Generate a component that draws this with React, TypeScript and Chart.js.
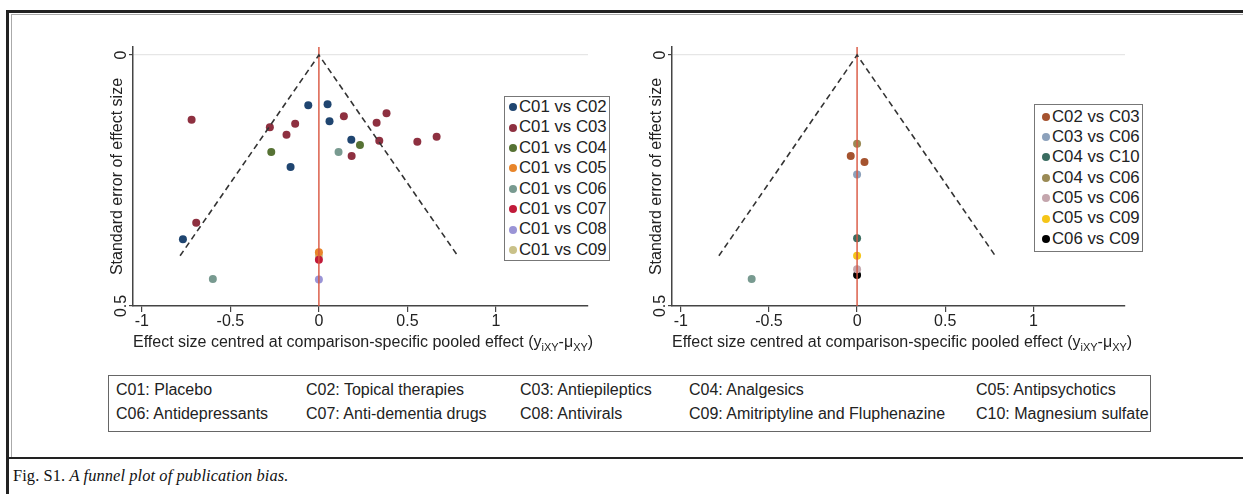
import React, { useEffect, useRef } from 'react';
import { Chart, registerables } from 'chart.js';

Chart.register(...registerables);

const FONT = '"Liberation Sans", Arial, Helvetica, sans-serif';
const SERIF = '"Liberation Serif", "Times New Roman", serif';

// ---- axes ----
const xTicks = [-1, -0.5, 0, 0.5, 1];
const yTicks = [0, 0.5];
const xMin = -1.05;
const xMax = 1.52;
const yMin = -0.016;
const yMax = 0.5;
const yAxisTitle = 'Standard error of effect size';
const xTitleParts = [
  { text: 'Effect size centred at comparison-specific pooled effect (y', sub: false },
  { text: 'iXY', sub: true },
  { text: '-\u03bc', sub: false },
  { text: 'XY', sub: true },
  { text: ')', sub: false },
];

// ---- funnel limits and reference line ----
const funnelX = [-0.784, 0, 0.784];
const funnelY = [0.4, 0, 0.4];
const refLineX = [0, 0];
const refLineY = [yMin, yMax];

// ---- left panel ----
const leftNames = ['C01 vs C02', 'C01 vs C03', 'C01 vs C04', 'C01 vs C05', 'C01 vs C06', 'C01 vs C07', 'C01 vs C08', 'C01 vs C09'];
const leftColors = ['#1f4570', '#8e3040', '#567234', '#e8852a', '#789a90', '#c11a3a', '#9a94d6', '#c9c189'];
const c01c02X = [-0.06, 0.049, 0.06, 0.183, -0.16, -0.768];
const c01c02Y = [0.1, 0.098, 0.132, 0.169, 0.223, 0.367];
const c01c03X = [-0.719, -0.277, -0.134, -0.183, 0.141, 0.326, 0.382, 0.341, 0.185, 0.556, 0.665, -0.693];
const c01c03Y = [0.129, 0.144, 0.137, 0.159, 0.122, 0.135, 0.116, 0.171, 0.201, 0.173, 0.163, 0.334];
const c01c04X = [-0.269, 0.232];
const c01c04Y = [0.193, 0.179];
const c01c05X = [0];
const c01c05Y = [0.393];
const c01c06X = [0.111, -0.599];
const c01c06Y = [0.193, 0.446];
const c01c07X = [0];
const c01c07Y = [0.408];
const c01c08X = [0];
const c01c08Y = [0.447];
const c01c09X = [0];
const c01c09Y = [0.4];
const leftXs = [c01c02X, c01c03X, c01c04X, c01c05X, c01c06X, c01c07X, c01c08X, c01c09X];
const leftYs = [c01c02Y, c01c03Y, c01c04Y, c01c05Y, c01c06Y, c01c07Y, c01c08Y, c01c09Y];

// ---- right panel ----
const rightNames = ['C02 vs C03', 'C03 vs C06', 'C04 vs C10', 'C04 vs C06', 'C05 vs C06', 'C05 vs C09', 'C06 vs C09'];
const rightColors = ['#a5532f', '#8ca1bb', '#3a6c60', '#9a8a55', '#c4a6ad', '#f5c518', '#000000'];
const c02c03X = [-0.036, 0.042];
const c02c03Y = [0.201, 0.213];
const c03c06X = [0];
const c03c06Y = [0.238];
const c04c10X = [0];
const c04c10Y = [0.365];
const c04c06X = [0];
const c04c06Y = [0.177];
const c05c06X = [0];
const c05c06Y = [0.427];
const c05c09X = [0];
const c05c09Y = [0.4];
const c06c09X = [0];
const c06c09Y = [0.438];
const rightXs = [c02c03X, c03c06X, c04c10X, c04c06X, c05c06X, c05c09X, c06c09X];
const rightYs = [c02c03Y, c03c06Y, c04c10Y, c04c06Y, c05c06Y, c05c09Y, c06c09Y];
// point present in the right panel without a legend entry
const rightExtraX = [-0.598];
const rightExtraY = [0.446];
const rightExtraColor = '#789a90';

// ---- footnote / caption ----
const abbreviations = [
  ['C01: Placebo', 'C02: Topical therapies', 'C03: Antiepileptics', 'C04: Analgesics', 'C05: Antipsychotics'],
  ['C06: Antidepressants', 'C07: Anti-dementia drugs', 'C08: Antivirals', 'C09: Amitriptyline and Fluphenazine', 'C10: Magnesium sulfate'],
];
const abbrevColumns = [7, 197, 411, 580, 867];
const captionLead = 'Fig. S1. ';
const captionItalic = 'A funnel plot of publication bias.';

const toPoints = (xs: number[], ys: number[]) => xs.map((x, i) => ({ x, y: ys[i] }));

const axisTextPlugin = {
  id: 'axisText',
  afterDraw(chart: any) {
    const { ctx, chartArea, scales } = chart;
    const ys = scales.y;
    ctx.save();
    ctx.fillStyle = '#222';
    ctx.font = `16px ${FONT}`;
    ctx.textAlign = 'center';
    ctx.textBaseline = 'middle';
    ys.ticks.forEach((t: any) => {
      const py = ys.getPixelForValue(t.value);
      ctx.save();
      ctx.translate(chartArea.left - 11, py);
      ctx.rotate(-Math.PI / 2);
      ctx.fillText(String(t.value), 0, 0);
      ctx.restore();
    });
    let x = chartArea.left;
    const base = chartArea.bottom + 41;
    ctx.textAlign = 'left';
    ctx.textBaseline = 'alphabetic';
    xTitleParts.forEach((p) => {
      ctx.font = p.sub ? `11px ${FONT}` : `16px ${FONT}`;
      ctx.fillText(p.text, x, base + (p.sub ? 4 : 0));
      x += ctx.measureText(p.text).width;
    });
    ctx.restore();
  },
};

type PanelProps = {
  xs: number[][];
  ys: number[][];
  colors: string[];
  names: string[];
  extra?: { x: number[]; y: number[]; color: string };
  left: number;
  width: number;
  axisWidth: number;
  padRight: number;
};

const CANVAS_H = 370;
const PLOT_TOP = 47;
const PLOT_BOTTOM = 306;

function FunnelPanel(props: PanelProps) {
  const ref = useRef<HTMLCanvasElement>(null);
  useEffect(() => {
    const { xs, ys, colors, names, extra, axisWidth, padRight } = props;
    const lineSets: any[] = [
      {
        type: 'line',
        label: 'funnel',
        data: toPoints(funnelX, funnelY),
        borderColor: '#333',
        borderWidth: 1.6,
        borderDash: [6, 4],
        pointRadius: 0,
        fill: false,
        order: 0,
      },
      {
        type: 'line',
        label: 'zero',
        data: toPoints(refLineX, refLineY),
        borderColor: '#d9553f',
        borderWidth: 1.4,
        pointRadius: 0,
        fill: false,
        order: 0,
      },
    ];
    const pointSets: any[] = names.map((n, i) => ({
      label: n,
      data: toPoints(xs[i], ys[i]),
      backgroundColor: colors[i],
      borderWidth: 0,
      pointRadius: 4,
      order: 1,
    }));
    if (extra) {
      pointSets.push({
        label: '',
        data: toPoints(extra.x, extra.y),
        backgroundColor: extra.color,
        borderWidth: 0,
        pointRadius: 4,
        order: 1,
      });
    }
    const chart = new Chart(ref.current as HTMLCanvasElement, {
      type: 'scatter',
      data: { datasets: [...lineSets, ...pointSets] },
      options: {
        animation: false,
        responsive: false,
        devicePixelRatio: 1,
        layout: { padding: { top: PLOT_TOP, right: padRight, left: 0, bottom: 0 } },
        plugins: { legend: { display: false }, tooltip: { enabled: false } },
        scales: {
          x: {
            type: 'linear',
            min: xMin,
            max: xMax,
            afterBuildTicks: (s: any) => {
              s.ticks = xTicks.map((v) => ({ value: v }));
            },
            afterFit: (s: any) => {
              s.height = CANVAS_H - PLOT_BOTTOM;
            },
            grid: { drawOnChartArea: false, drawTicks: true, tickLength: 6, color: '#444', lineWidth: 1.2 },
            border: { display: true, color: '#444', width: 1.5 },
            ticks: {
              font: { family: FONT, size: 16 },
              color: '#222',
              padding: 0,
              maxRotation: 0,
              callback: (v: any) => String(v),
            },
          },
          y: {
            type: 'linear',
            reverse: true,
            min: yMin,
            max: yMax,
            afterBuildTicks: (s: any) => {
              s.ticks = yTicks.map((v) => ({ value: v }));
            },
            afterFit: (s: any) => {
              s.width = axisWidth;
            },
            grid: {
              drawOnChartArea: true,
              drawTicks: true,
              tickLength: 4,
              tickColor: '#444',
              color: (c: any) => (c.tick && c.tick.value === 0 ? '#e6e6e6' : 'rgba(0,0,0,0)'),
              lineWidth: 1.2,
            },
            border: { display: true, color: '#444', width: 1.5 },
            ticks: { display: false },
            title: {
              display: true,
              text: yAxisTitle,
              color: '#222',
              font: { family: FONT, size: 16 },
              padding: { top: axisWidth - 25.5, bottom: 0 },
            },
          },
        },
      },
      plugins: [axisTextPlugin],
    } as any);
    return () => chart.destroy();
  }, []);
  return (
    <canvas
      ref={ref}
      width={props.width}
      height={CANVAS_H}
      style={{ position: 'absolute', left: props.left, top: 0, width: props.width, height: CANVAS_H }}
    />
  );
}

function Legend({ names, colors, left, top, width, padTop, dotX, textX }: any) {
  return (
    <div
      style={{
        position: 'absolute',
        left,
        top,
        width,
        border: '1px solid #777',
        background: '#fff',
        paddingTop: padTop,
        paddingBottom: padTop,
        boxSizing: 'border-box',
        fontFamily: FONT,
        fontSize: 16.8,
        color: '#222',
      }}
    >
      {names.map((n: string, i: number) => (
        <div key={n} style={{ position: 'relative', height: 20.4, lineHeight: '20.4px', whiteSpace: 'nowrap' }}>
          <span
            style={{
              position: 'absolute',
              left: dotX - 4,
              top: 6.2,
              width: 8,
              height: 8,
              borderRadius: '50%',
              background: colors[i],
            }}
          />
          <span style={{ position: 'absolute', left: textX }}>{n}</span>
        </div>
      ))}
    </div>
  );
}

export default function App() {
  const line = (s: React.CSSProperties) => <div style={{ position: 'absolute', ...s }} />;
  return (
    <div style={{ position: 'absolute', left: 0, top: 0, width: 1243, height: 494, background: '#fff', overflow: 'hidden' }}>
      {line({ left: 6, top: 10, width: 1237, height: 3, background: '#222' })}
      {line({ left: 11, top: 14, width: 1232, height: 1, background: '#aaa' })}
      {line({ left: 6, top: 10, width: 3, height: 484, background: '#222' })}
      {line({ left: 11, top: 14, width: 1, height: 443, background: '#aaa' })}
      {line({ left: 6, top: 457, width: 1237, height: 2, background: '#222' })}

      <FunnelPanel xs={leftXs} ys={leftYs} colors={leftColors} names={leftNames} left={0} width={600} axisWidth={133} padRight={12} />
      <FunnelPanel
        xs={rightXs}
        ys={rightYs}
        colors={rightColors}
        names={rightNames}
        extra={{ x: rightExtraX, y: rightExtraY, color: rightExtraColor }}
        left={600}
        width={643}
        axisWidth={72}
        padRight={118}
      />

      <Legend names={leftNames} colors={leftColors} left={504} top={96} width={106} padTop={0} dotX={8} textX={14} />
      <Legend names={rightNames} colors={rightColors} left={1034} top={104} width={109} padTop={1.5} dotX={11} textX={17} />

      <div
        style={{
          position: 'absolute',
          left: 108,
          top: 375,
          width: 1043,
          height: 57,
          border: '1px solid #666',
          boxSizing: 'border-box',
          fontFamily: FONT,
          fontSize: 16,
          color: '#222',
        }}
      >
        {abbreviations.map((row, r) =>
          row.map((t, c) => (
            <div
              key={t}
              style={{ position: 'absolute', left: abbrevColumns[c], top: 4 + r * 24, lineHeight: '20px', whiteSpace: 'nowrap' }}
            >
              {t}
            </div>
          ))
        )}
      </div>

      <div
        style={{
          position: 'absolute',
          left: 13,
          top: 466,
          fontFamily: SERIF,
          fontSize: 16.4,
          lineHeight: '20px',
          color: '#111',
          whiteSpace: 'nowrap',
          letterSpacing: 0.1,
        }}
      >
        {captionLead}
        <i>{captionItalic}</i>
      </div>
    </div>
  );
}
